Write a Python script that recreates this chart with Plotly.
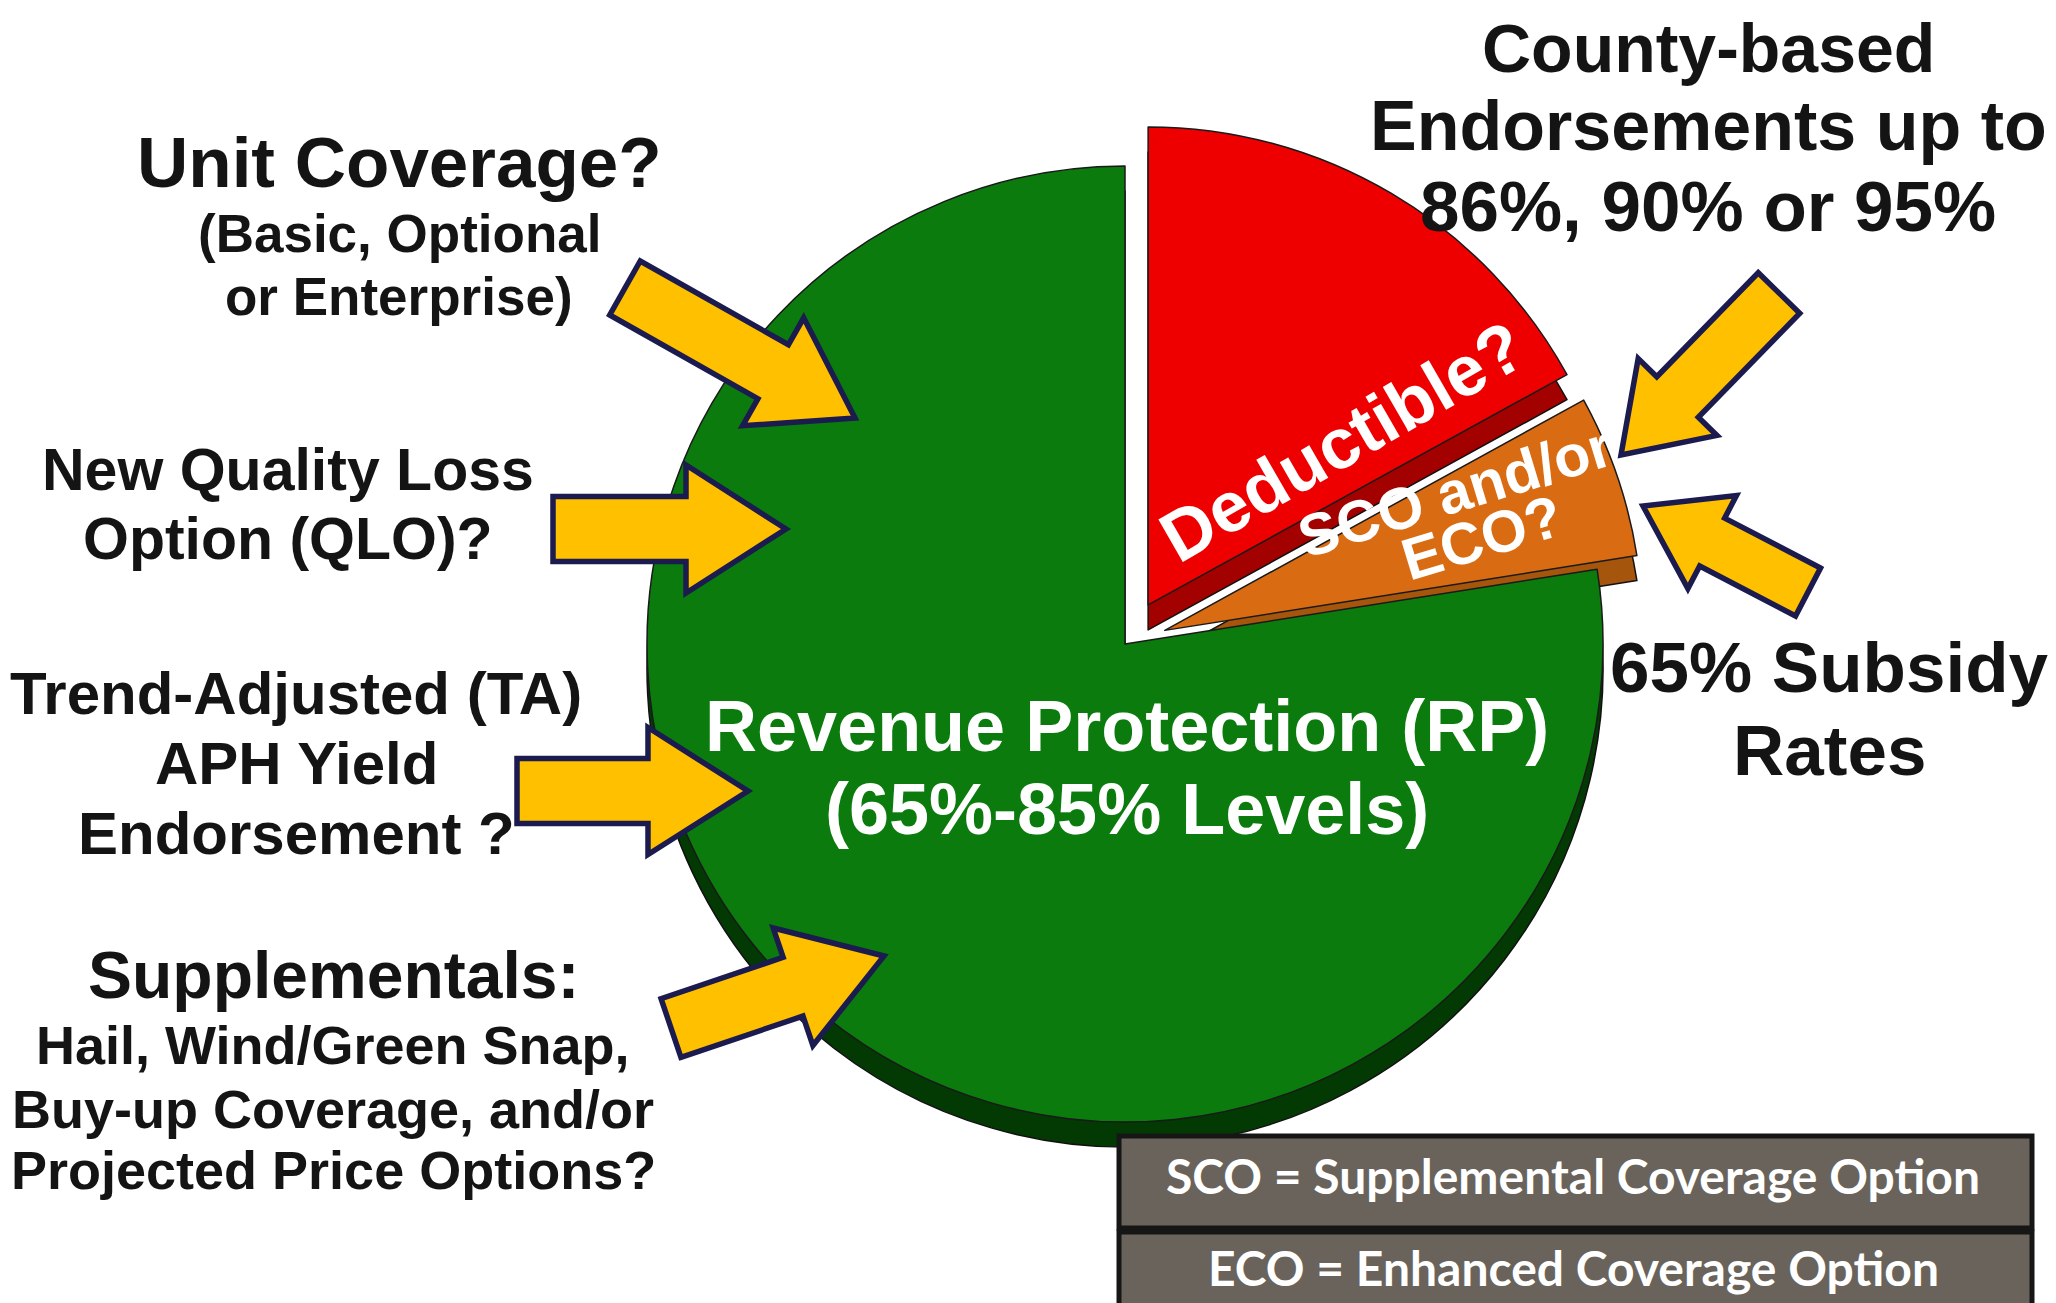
import plotly.graph_objects as go

W, H = 2056, 1303

# ---------------- data ----------------
slice_labels = ["Deductible?", "SCO and/or ECO?", "Revenue Protection (RP)"]
slice_values = [17, 5.5, 77.5]
slice_colors = ["#EE0000", "#D96C12", "#0A7B0C"]
side_colors = ["#A30000", "#A5550C", "#033A04"]
slice_pull = [0.095, 0.088, 0.0]

left_notes = [
    ["Unit Coverage?", "(Basic, Optional", "or Enterprise)"],
    ["New Quality Loss", "Option (QLO)?"],
    ["Trend-Adjusted (TA)", "APH Yield", "Endorsement ?"],
    ["Supplementals:", "Hail, Wind/Green Snap,", "Buy-up Coverage, and/or", "Projected Price Options?"],
]
right_notes = [
    ["County-based", "Endorsements up to", "86%, 90% or 95%"],
    ["65% Subsidy", "Rates"],
]
rp_lines = ["Revenue Protection (RP)", "(65%-85% Levels)"]
sco_lines = ["SCO and/or", "ECO?"]
legend_lines = ["SCO = Supplemental Coverage Option", "ECO = Enhanced Coverage Option"]

# ---------------- layout helpers (pixel -> paper) ----------------
def px(x):
    return x / W

def py(y):
    return 1 - y / H

cx, cy, R = 1117, 636, 478
depth = 25
max_pull = max(slice_pull)
half = R * (1 + max_pull)

def domain(dy=0):
    return dict(x=[px(cx - half), px(cx + half)],
                y=[py(cy + dy + half), py(cy + dy - half)])

fig = go.Figure()
# 3D side (shadow) pie
fig.add_trace(go.Pie(
    labels=slice_labels, values=slice_values, sort=False, direction="clockwise",
    rotation=0, pull=slice_pull, textinfo="none", hoverinfo="skip",
    marker=dict(colors=side_colors, line=dict(color="#111111", width=1.5)),
    domain=domain(depth), showlegend=False))
# top face pie
fig.add_trace(go.Pie(
    labels=slice_labels, values=slice_values, sort=False, direction="clockwise",
    rotation=0, pull=slice_pull, textinfo="none",
    marker=dict(colors=slice_colors, line=dict(color="#1a1a1a", width=1.5)),
    domain=domain(0), showlegend=False))

annotations = []
TEXT_DY = -7

def add_text(text, x, y, size, color="#141414", angle=0, family="Liberation Sans"):
    annotations.append(dict(
        text="<b>" + text + "</b>", x=px(x), y=py(y + TEXT_DY), xref="paper", yref="paper",
        showarrow=False, xanchor="center", yanchor="middle", textangle=angle,
        font=dict(family=family, size=size, color=color)))

# left notes: (center x, center y per line, font sizes)
left_pos = [
    (391, [161, 233, 296], [71, 53, 53]),
    (280, [469, 538], [59, 59]),
    (288, [692, 762, 832], [60, 60, 60]),
    (325, [974, 1044, 1108, 1169], [66, 54, 54, 54]),
]
for lines, (x, ys, sizes) in zip(left_notes, left_pos):
    for t, y, s in zip(lines, ys, sizes):
        add_text(t, x, y, s)

right_pos = [
    (1700, [47, 125, 205], [68, 70, 71]),
    (1821, [666, 749], [71, 71]),
]
for lines, (x, ys, sizes) in zip(right_notes, right_pos):
    for t, y, s in zip(lines, ys, sizes):
        add_text(t, x, y, s)

# pie labels
add_text(rp_lines[0], 1119, 725, 72, color="white")
add_text(rp_lines[1], 1119, 808, 72, color="white")
add_text(slice_labels[0], 1334, 440, 71, color="white", angle=-30)
add_text(sco_lines[0], 1447, 491, 59, color="white", angle=-17)
add_text(sco_lines[1], 1474, 537, 59, color="white", angle=-17)

# legend boxes
shapes = []
box_rows = [(1128, 1220), (1224, 1318)]
for (y0, y1), t in zip(box_rows, legend_lines):
    shapes.append(dict(type="rect", xref="paper", yref="paper",
                       x0=px(1111), x1=px(2024), y0=py(y1), y1=py(y0),
                       fillcolor="#69635B", line=dict(color="#161616", width=5)))
for t, y in zip(legend_lines, [1167, 1259]):
    annotations.append(dict(
        text="<b>" + t + "</b>", x=px(1565), y=py(y), xref="paper", yref="paper",
        showarrow=False, xanchor="center", yanchor="middle",
        font=dict(family="Lato", size=48, color="white")))

# block arrows: tail, tip, shaft width, head width, head length (pixels)
arrows = [
    ((617, 280), (847, 410), 62, 124, 94),
    ((545, 521), (778, 521), 65, 128, 100),
    ((509, 783), (740, 783), 65, 127, 100),
    ((663, 1020), (876, 948), 62, 124, 96),
    ((1771, 285), (1613, 447), 58, 110, 81),
    ((1800, 584), (1635, 498), 54, 105, 78),
]

def arrow_path(tail, tip, sw, hw, hl):
    (x0, y0), (x1, y1) = tail, tip
    dx, dy = x1 - x0, y1 - y0
    L = (dx * dx + dy * dy) ** 0.5
    ux, uy = dx / L, dy / L
    nx, ny = -uy, ux
    bx, by = x1 - ux * hl, y1 - uy * hl
    pts = [
        (x0 + nx * sw / 2, y0 + ny * sw / 2),
        (bx + nx * sw / 2, by + ny * sw / 2),
        (bx + nx * hw / 2, by + ny * hw / 2),
        (x1, y1),
        (bx - nx * hw / 2, by - ny * hw / 2),
        (bx - nx * sw / 2, by - ny * sw / 2),
        (x0 - nx * sw / 2, y0 - ny * sw / 2),
    ]
    return "M " + " L ".join(f"{px(a):.5f},{py(b):.5f}" for a, b in pts) + " Z"

for a in arrows:
    shapes.append(dict(type="path", xref="paper", yref="paper", path=arrow_path(*a),
                       fillcolor="#FFC000", line=dict(color="#1B1B4F", width=5.5),
                       layer="above"))

fig.update_layout(
    width=W, height=H, margin=dict(l=0, r=0, t=0, b=0),
    paper_bgcolor="white", plot_bgcolor="white",
    showlegend=False, annotations=annotations, shapes=shapes,
)
fig.write_html("out.html")
